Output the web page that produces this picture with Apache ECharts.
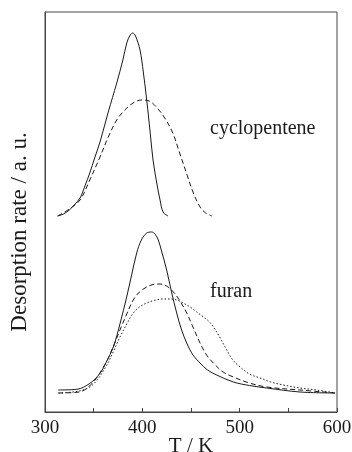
<!DOCTYPE html>
<html>
<head>
<meta charset="utf-8">
<script src="https://cdn.jsdelivr.net/npm/echarts@6/dist/echarts.min.js"></script>
<style>
html,body{margin:0;padding:0;background:#fff;}
#c{width:352px;height:452px;}
</style>
</head>
<body>
<div id="c"></div>
<script>
// Temperatures (K) and desorption rates (a.u.)
var cycloSolidT = [313, 319, 325, 330, 336, 341, 346, 351, 356.5, 365, 373.7, 380, 384, 387.5, 390.1, 393, 397.6, 401, 404.5, 408, 411, 415, 418.2, 421.3, 426.4];
var cycloSolidY = [196, 198, 202, 207, 214, 226, 239, 254, 270, 300, 329, 352, 369, 377, 379, 376, 362, 340, 312, 280, 252, 228, 212, 200, 196];

var cycloDashT = [313, 325, 336, 346, 356.5, 365, 373.7, 382, 390.5, 399, 407, 414.4, 423, 431.3, 438, 445.3, 452, 459.3, 465, 471.4];
var cycloDashY = [196, 203, 212, 232, 255, 275, 292, 302, 309, 312, 311, 305, 294, 279, 260, 239, 220, 205, 199, 196];

var furanSolidT = [313.7, 332.6, 346.2, 356.5, 363, 370.2, 377, 383.9, 389, 394.2, 399, 404.5, 409.6, 413, 416.4, 420, 425, 430, 435.3, 440, 445.6, 452, 459.3, 467, 476.4, 493.5, 510, 527.8, 562, 598];
var furanSolidY = [22, 22.7, 28.7, 38.7, 50, 65, 88, 115, 137, 159, 172, 179, 180, 178, 172, 160, 142, 120, 99, 83, 69, 57, 49, 42, 37, 30, 26.5, 24, 20, 19];

var furanDashT = [313.7, 335.1, 348.8, 362.4, 370, 377, 384, 390.7, 397, 404.5, 411, 418.2, 425, 431.9, 438, 445.6, 452, 459.3, 466, 473, 483, 493.5, 510, 527.8, 562, 598];
var furanDashY = [19, 20, 29, 49, 65, 82, 98, 112, 120, 125, 127.5, 128, 126, 120, 112, 99, 85, 69, 57, 49, 40, 35, 29, 25, 22, 19];

var furanDotT = [313.7, 335.1, 348.8, 362.4, 370, 377, 384, 390.7, 397, 404.5, 412, 421.4, 428, 435.3, 442, 449, 456, 462.7, 468, 473, 480, 486.7, 493, 500.4, 510, 520.9, 532, 544.9, 562, 579, 598];
var furanDotY = [19, 21, 27, 45, 60, 75, 88, 99, 105, 109, 111.5, 113, 113, 112, 109, 105, 100, 95, 91, 85, 74, 62, 52, 45, 38, 34, 30, 27, 24, 22, 19];

var xTicks = [300, 400, 500, 600];
var labelCyclo = 'cyclopentene';
var labelFuran = 'furan';
var xTitle = 'T / K';
var yTitle = 'Desorption rate / a. u.';

function zip(a, b) { return a.map(function (v, i) { return [v, b[i]]; }); }

var FONT = '"Liberation Serif", "DejaVu Serif", serif';
var INK = '#1a1a1a';

function lineSeries(t, y, type) {
  return {
    type: 'line',
    data: zip(t, y),
    smooth: 0.35,
    showSymbol: false,
    symbol: 'none',
    silent: true,
    lineStyle: { color: INK, width: 1, type: type }
  };
}

var chart = echarts.init(document.getElementById('c'), null, { renderer: 'canvas' });
chart.setOption({
  animation: false,
  backgroundColor: '#fff',
  grid: { left: 45, right: 15, top: 12, bottom: 40, outerBoundsMode: 'none', containLabel: false, show: true, borderColor: '#444', borderWidth: 1, backgroundColor: 'transparent' },
  xAxis: {
    type: 'value', min: 300, max: 600, interval: 50,
    name: xTitle, nameLocation: 'middle', nameGap: 24, nameMoveOverlap: false,
    nameTextStyle: { fontFamily: FONT, fontSize: 21, color: INK, verticalAlign: 'top' },
    axisLine: { show: true, lineStyle: { color: '#444', width: 1 } },
    axisTick: { show: true, inside: true, length: 4, lineStyle: { color: '#444' } },
    axisLabel: {
      margin: 7, fontFamily: FONT, fontSize: 19, color: INK,
      formatter: function (v) { return xTicks.indexOf(v) >= 0 ? String(v) : ''; }
    },
    splitLine: { show: false }
  },
  yAxis: {
    type: 'value', min: 0, max: 400,
    axisLine: { show: true, lineStyle: { color: '#444' } },
    axisTick: { show: false },
    axisLabel: { show: false },
    splitLine: { show: false }
  },
  graphic: [
    { type: 'text', x: 20, y: 232, rotation: Math.PI / 2, style: { text: yTitle, font: '23px ' + FONT, fill: INK, textAlign: 'center', textVerticalAlign: 'middle' } },
    { type: 'text', left: 210, top: 119, style: { text: labelCyclo, font: '20px ' + FONT, fill: INK } },
    { type: 'text', left: 210, top: 282, style: { text: labelFuran, font: '20px ' + FONT, fill: INK } }
  ],
  series: [
    lineSeries(cycloSolidT, cycloSolidY, 'solid'),
    lineSeries(cycloDashT, cycloDashY, [5, 3]),
    lineSeries(furanSolidT, furanSolidY, 'solid'),
    lineSeries(furanDashT, furanDashY, [5, 3]),
    lineSeries(furanDotT, furanDotY, [1.5, 2])
  ]
});
</script>
</body>
</html>
